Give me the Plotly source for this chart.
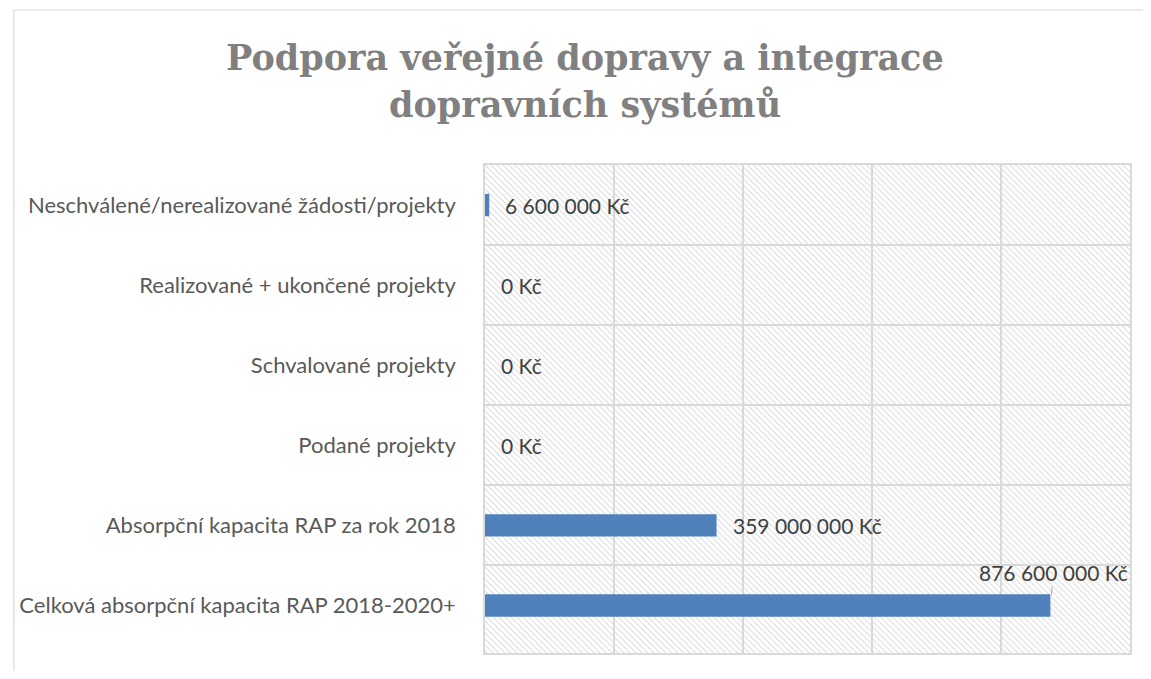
import base64
import plotly.graph_objects as go

categories = [
    "Neschválené/nerealizované žádosti/projekty",
    "Realizované + ukončené projekty",
    "Schvalované projekty",
    "Podané projekty",
    "Absorpční kapacita RAP za rok 2018",
    "Celková absorpční kapacita RAP 2018-2020+",
]
values = [6600000, 0, 0, 0, 359000000, 876600000]
value_labels = ["6 600 000 Kč", "0 Kč", "0 Kč", "0 Kč", "359 000 000 Kč", "876 600 000 Kč"]
x_tickvals = [0, 200000000, 400000000, 600000000, 800000000, 1000000000]
title_lines = ["Podpora veřejné dopravy a integrace", "dopravních systémů"]

# page has an 8px body margin; figure sized to fit the 1151x679 window
OFF = 8
W, H = 1151 - 2 * OFF, 679 - 2 * OFF
ML, MT = 483 - OFF, 165 - OFF
MR, MB = W - (1132 - OFF), H - (653 - OFF)
PW, PH = W - ML - MR, H - MT - MB

BAR_COLOR = "#4f81bd"
GRID = "#d9d9d9"
LABEL_FONT = "Lato"

# hatched background for the plot area (downward diagonal)
t = 6
svg = (
    f'<svg xmlns="http://www.w3.org/2000/svg" width="{PW}" height="{PH}" '
    f'viewBox="0 0 {PW} {PH}" preserveAspectRatio="none">'
    f'<defs><pattern id="h" patternUnits="userSpaceOnUse" width="{t}" height="{t}">'
    f'<g stroke="#dedede" stroke-width="1.2">'
    f'<line x1="0" y1="0" x2="{t}" y2="{t}"/>'
    f'<line x1="-1" y1="{t-1}" x2="1" y2="{t+1}"/>'
    f'<line x1="{t-1}" y1="-1" x2="{t+1}" y2="1"/>'
    f'</g></pattern></defs>'
    f'<rect width="{PW}" height="{PH}" fill="white"/>'
    f'<rect width="{PW}" height="{PH}" fill="url(#h)"/></svg>'
)
svg_uri = "data:image/svg+xml;base64," + base64.b64encode(svg.encode()).decode()

def px_x(page_x):
    return (page_x - OFF - ML) / PW

def px_y(page_y):
    return (H - MB - (page_y - OFF)) / PH

fig = go.Figure()
fig.add_trace(go.Bar(
    y=categories,
    x=values,
    orientation="h",
    width=0.28,
    marker=dict(color=BAR_COLOR, line=dict(width=0)),
    hoverinfo="skip",
    showlegend=False,
))

vmax = max(values)
for cat, v, lab in zip(categories, values, value_labels):
    if v == vmax:
        fig.add_annotation(
            x=v, y=cat, text=lab, showarrow=True, arrowhead=0,
            arrowcolor="#a6a6a6", arrowwidth=1, ax=3, ay=-33, standoff=11,
            font=dict(family=LABEL_FONT, size=21, color="#404040"),
        )
    else:
        fig.add_annotation(
            x=v, y=cat, text=lab, showarrow=False, xanchor="left", xshift=14,
            font=dict(family=LABEL_FONT, size=21, color="#404040"),
        )

# title (two lines, spaced as in the original)
for line, cy in zip(title_lines, [57, 104]):
    fig.add_annotation(
        xref="paper", yref="paper", x=px_x(584), y=px_y(cy),
        xanchor="center", yanchor="middle", showarrow=False,
        text=f"<b>{line}</b>",
        font=dict(family="DejaVu Serif", size=35, color="#808080"),
    )

fig.update_layout(
    width=W, height=H,
    margin=dict(l=ML, r=MR, t=MT, b=MB, pad=0),
    paper_bgcolor="white",
    plot_bgcolor="rgba(0,0,0,0)",
    xaxis=dict(
        range=[0, 1000000000], tickvals=x_tickvals, showticklabels=False,
        showgrid=True, gridcolor=GRID, gridwidth=1.5, zeroline=False,
        showline=True, mirror=True, linecolor=GRID, linewidth=1.5,
    ),
    yaxis=dict(
        type="category", categoryorder="array", categoryarray=categories,
        autorange="reversed", tickson="boundaries",
        showgrid=True, gridcolor=GRID, gridwidth=1.5,
        showline=True, mirror=True, linecolor=GRID, linewidth=1.5,
        ticks="", ticklabelstandoff=23,
        tickfont=dict(family=LABEL_FONT, size=22, color="#595959"),
    ),
    images=[dict(
        source=svg_uri, xref="paper", yref="paper", x=0, y=1,
        sizex=1, sizey=1, xanchor="left", yanchor="top",
        sizing="stretch", layer="below",
    )],
    shapes=[dict(
        type="rect", xref="paper", yref="paper",
        x0=px_x(9), x1=px_x(1151 + 30),
        y0=px_y(679 + 30), y1=px_y(10),
        line=dict(color=GRID, width=1.2), fillcolor="rgba(0,0,0,0)", layer="below",
    )],
)

fig.write_html("out.html")
